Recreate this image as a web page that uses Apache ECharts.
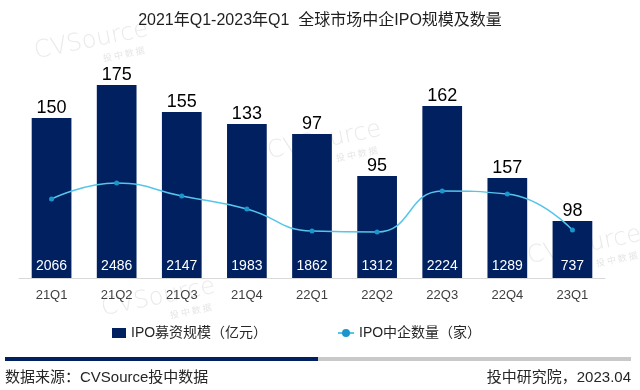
<!DOCTYPE html>
<html>
<head>
<meta charset="utf-8">
<script src="https://cdn.jsdelivr.net/npm/echarts@6/dist/echarts.min.js"></script>
<style>html,body{margin:0;padding:0;background:#fff;}#c{width:640px;height:390px;}</style>
</head>
<body>
<div id="c"></div>
<script>
const categories = ['21Q1','21Q2','21Q3','21Q4','22Q1','22Q2','22Q3','22Q4','23Q1'];
// Values shown as labels
const fundraising = [150, 175, 155, 133, 97, 95, 162, 157, 98];      // IPO募资规模（亿元）
const ipoCount = [2066, 2486, 2147, 1983, 1862, 1312, 2224, 1289, 737]; // IPO中企数量（家）
// Heights as drawn in the picture (the source chart is not to scale)
const barLevel = [160, 193, 166, 154, 144, 102, 172, 100, 57];
const lineLevel = [79, 95, 82, 69, 47, 46, 87, 84, 48];

const FONT = '"Liberation Sans", Arial, "Noto Sans CJK SC", sans-serif';
const barName = 'IPO募资规模（亿元）';
const lineName = 'IPO中企数量（家）';

function watermark(x, y) {
  return {
    type: 'group', x: x, y: y, rotation: 0.2, z: -10, silent: true,
    children: [
      { type: 'text', x: 0, y: 0, style: { text: 'CVSource', fill: '#eaeaea', font: '200 24px "DejaVu Sans", sans-serif', textAlign: 'left', textVerticalAlign: 'bottom' } },
      { type: 'text', x: 66, y: 3, style: { text: '投 中 数 据', fill: '#e6e6e6', font: '9px "Noto Sans CJK SC", sans-serif', textAlign: 'left', textVerticalAlign: 'top' } }
    ]
  };
}

const chart = echarts.init(document.getElementById('c'), null, { renderer: 'canvas' });
chart.setOption({
  animation: false,
  textStyle: { fontFamily: FONT },
  title: {
    text: '2021年Q1-2023年Q1  全球市场中企IPO规模及数量',
    left: 'center', top: 8,
    textStyle: { fontFamily: FONT, fontSize: 16, fontWeight: 'normal', color: '#1f1f1f' }
  },
  grid: { left: 19, right: 35, top: 78, bottom: 112 },
  legend: [
    { data: [{ name: barName, icon: 'rect' }], left: 107, top: 321, itemWidth: 14, itemHeight: 10, itemGap: 5,
      textStyle: { fontFamily: FONT, fontSize: 14, color: '#262626' } },
    { data: [{ name: lineName }], left: 332, top: 321, itemWidth: 16, itemHeight: 10,
      textStyle: { fontFamily: FONT, fontSize: 14, color: '#262626' } }
  ],
  xAxis: {
    type: 'category', data: categories,
    axisLine: { lineStyle: { color: '#d9d9d9', width: 1 } },
    axisTick: { show: false },
    axisLabel: { margin: 11, fontSize: 13, color: '#404040', fontFamily: FONT }
  },
  yAxis: { type: 'value', min: 0, max: 200, show: false, splitLine: { show: false } },
  graphic: [
    watermark(37, 64), watermark(270, 164), watermark(530, 269), watermark(104, 321),
    { type: 'rect', shape: { x: 5, y: 357, width: 313, height: 4 }, style: { fill: '#002060' } },
    { type: 'rect', shape: { x: 318, y: 357, width: 313, height: 4 }, style: { fill: '#c9c9c9' } },
    { type: 'text', x: 5, y: 378, style: { text: '数据来源：CVSource投中数据', font: '15px ' + FONT, fill: '#262626', textAlign: 'left', textVerticalAlign: 'middle' } },
    { type: 'text', x: 631, y: 378, style: { text: '投中研究院，2023.04', font: '15px ' + FONT, fill: '#262626', textAlign: 'right', textVerticalAlign: 'middle' } }
  ],
  series: [
    {
      name: barName, type: 'bar', data: barLevel, barWidth: '61%',
      itemStyle: { color: '#002060' },
      label: { show: true, position: 'top', distance: 1, fontSize: 18, color: '#000', fontFamily: FONT,
        formatter: p => String(fundraising[p.dataIndex]) }
    },
    {
      name: 'count-labels', type: 'bar', data: barLevel, barWidth: '61%', barGap: '-100%', silent: true,
      itemStyle: { color: 'rgba(0,0,0,0)' },
      label: { show: true, position: 'insideBottom', distance: 5, fontSize: 14, color: '#fff', fontFamily: FONT,
        formatter: p => String(ipoCount[p.dataIndex]) }
    },
    {
      name: lineName, type: 'line', data: lineLevel, smooth: 0.5, z: 5,
      symbol: 'circle', symbolSize: 5,
      lineStyle: { color: '#56c5ea', width: 1.5 },
      itemStyle: { color: '#1a96cc' }
    }
  ]
});
</script>
</body>
</html>
